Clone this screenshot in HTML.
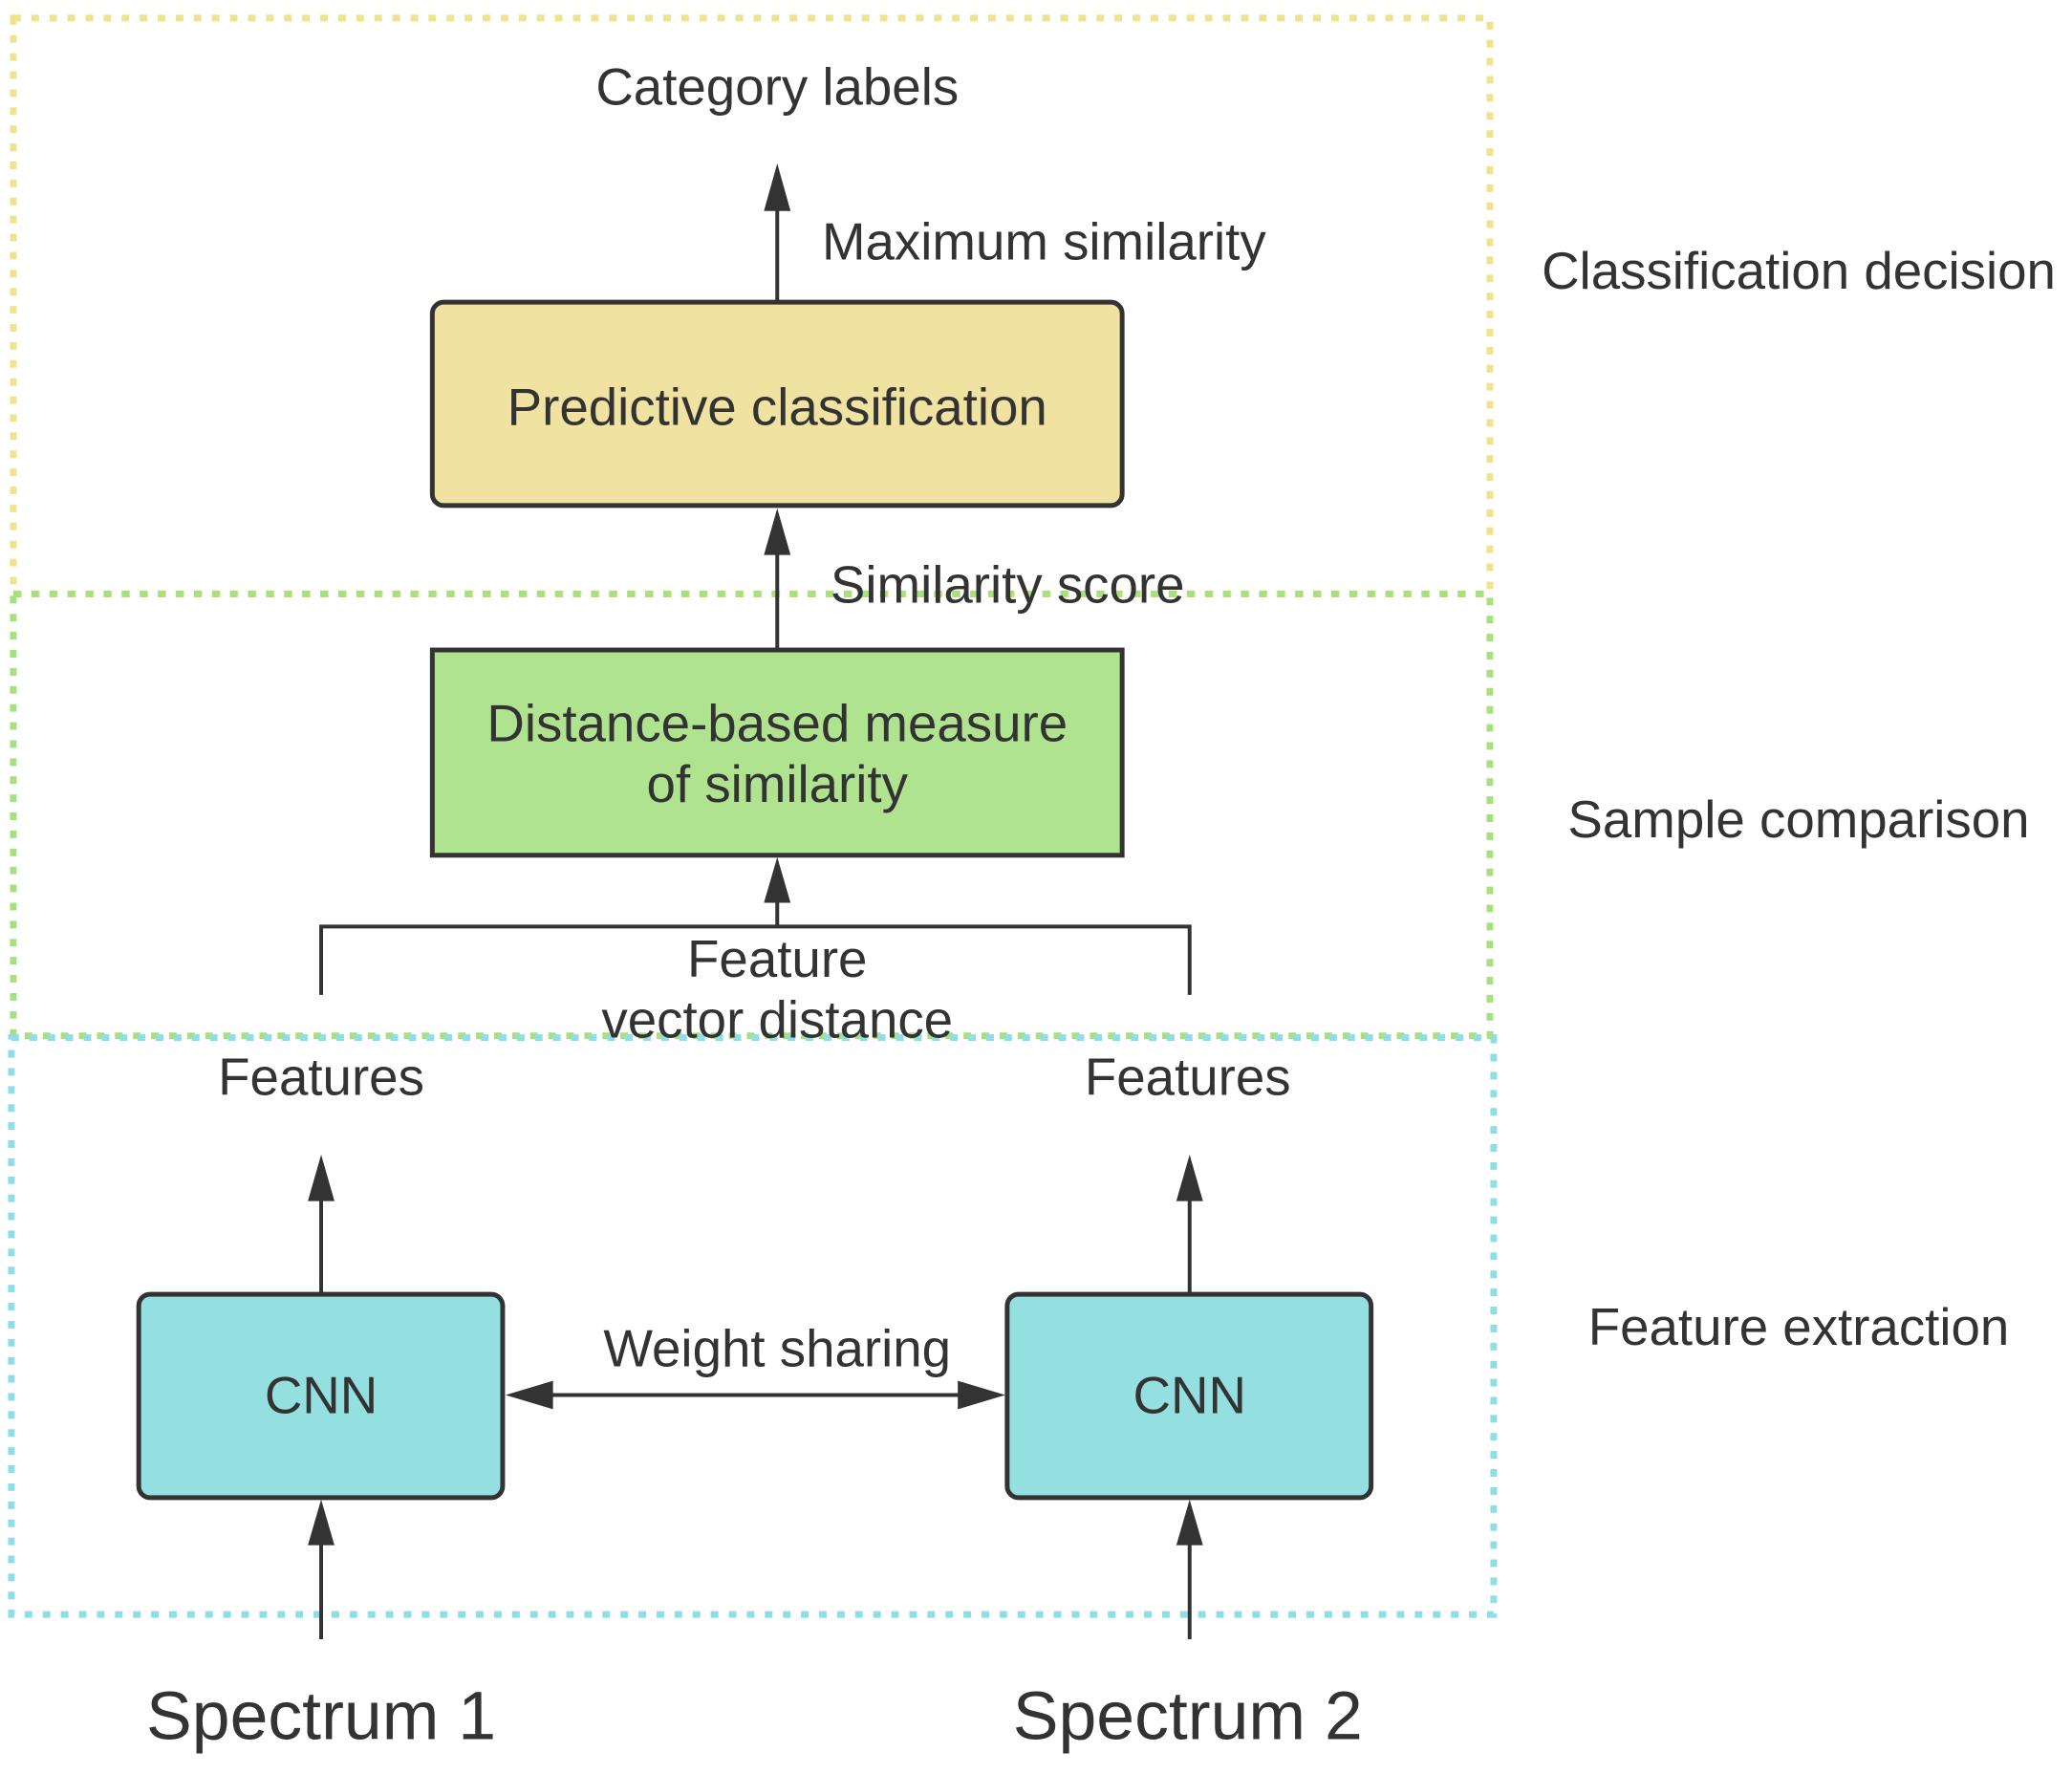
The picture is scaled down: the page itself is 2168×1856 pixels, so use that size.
<!DOCTYPE html>
<html><head><meta charset="utf-8"><style>
html,body{margin:0;padding:0;background:#fff;}
svg text{font-family:"Liberation Sans",sans-serif;fill:#333;}
</style></head><body>
<svg width="2168" height="1851" viewBox="0 0 2168 1851" xmlns="http://www.w3.org/2000/svg">
<g transform="scale(0.9942)">
<!-- dashed region boxes -->
<rect x="14" y="19" width="1554" height="606" fill="none" stroke="#efe38e" stroke-width="7" stroke-dasharray="8 11"/>
<rect x="14" y="625" width="1554" height="465" fill="none" stroke="#a9e07f" stroke-width="7" stroke-dasharray="8 11"/>
<rect x="12" y="1092" width="1560" height="607" fill="none" stroke="#8fdde6" stroke-width="7" stroke-dasharray="8 11"/>

<!-- boxes -->
<rect x="455" y="318" width="726" height="214" rx="12" fill="#f0e2a0" stroke="#333" stroke-width="5"/>
<rect x="455" y="684" width="726" height="216" fill="#b0e38f" stroke="#333" stroke-width="5"/>
<rect x="146" y="1362" width="383" height="214" rx="12" fill="#94e0e0" stroke="#333" stroke-width="5"/>
<rect x="1060" y="1362" width="383" height="214" rx="12" fill="#94e0e0" stroke="#333" stroke-width="5"/>

<!-- lines -->
<g stroke="#333" stroke-width="4" fill="none">
<line x1="818" y1="318" x2="818" y2="200"/>
<line x1="818" y1="684" x2="818" y2="560"/>
<line x1="818" y1="974" x2="818" y2="928"/>
<polyline points="338,1047 338,975 1252,975 1252,1047"/>
<line x1="338" y1="1362" x2="338" y2="1240"/>
<line x1="1252" y1="1362" x2="1252" y2="1240"/>
<line x1="338" y1="1725" x2="338" y2="1600"/>
<line x1="1252" y1="1725" x2="1252" y2="1600"/>
<line x1="560" y1="1468" x2="1030" y2="1468"/>
</g>
<g fill="#333">
<polygon points="818,172 804,222 832,222"/>
<polygon points="818,535 804,584 832,584"/>
<polygon points="818,902 804,950 832,950"/>
<polygon points="338,1215 324,1264 352,1264"/>
<polygon points="1252,1215 1238,1264 1266,1264"/>
<polygon points="338,1578 324,1626 352,1626"/>
<polygon points="1252,1578 1238,1626 1266,1626"/>
<polygon points="532,1468 582,1453 582,1483"/>
<polygon points="1058,1468 1008,1453 1008,1483"/>
</g>

<!-- text -->
<g font-size="55">
<text x="818" y="110" text-anchor="middle">Category labels</text>
<text x="865" y="273">Maximum similarity</text>
<text x="818" y="447" text-anchor="middle">Predictive classification</text>
<text x="874" y="634">Similarity score</text>
<text x="818" y="780" text-anchor="middle">Distance-based measure</text>
<text x="818" y="844" text-anchor="middle">of similarity</text>
<text x="818" y="1028" text-anchor="middle">Feature</text>
<text x="818" y="1092" text-anchor="middle">vector distance</text>
<text x="338" y="1152" text-anchor="middle">Features</text>
<text x="1250" y="1152" text-anchor="middle">Features</text>
<text x="818" y="1438" text-anchor="middle">Weight sharing</text>
<text x="338" y="1487" text-anchor="middle">CNN</text>
<text x="1252" y="1487" text-anchor="middle">CNN</text>
<text x="1893" y="304" text-anchor="middle">Classification decision</text>
<text x="1893" y="881" text-anchor="middle">Sample comparison</text>
<text x="1893" y="1415" text-anchor="middle">Feature extraction</text>
</g>
<g font-size="72">
<text x="338" y="1830" text-anchor="middle">Spectrum 1</text>
<text x="1250" y="1830" text-anchor="middle">Spectrum 2</text>
</g>
</g>
</svg>
</body></html>
